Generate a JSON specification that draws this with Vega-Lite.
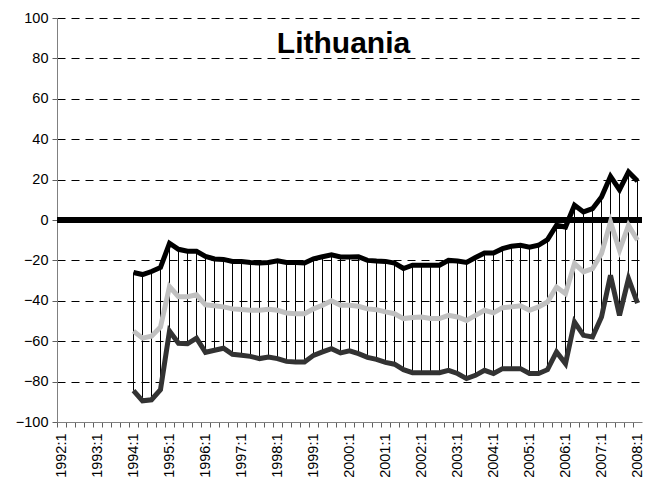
{
  "$schema": "https://vega.github.io/schema/vega-lite/v6.json",
  "width": 585,
  "height": 404,
  "autosize": {"type": "none"},
  "padding": {"left": 57, "top": 18, "right": 6, "bottom": 57},
  "background": "white",
  "title": {
    "text": "Lithuania",
    "font": "Liberation Sans",
    "fontSize": 30,
    "fontWeight": "bold",
    "color": "black",
    "anchor": "middle",
    "offset": -48.5,
    "dx": -6
  },
  "config": {
    "view": {"stroke": null},
    "font": "Liberation Sans",
    "axis": {
      "labelFont": "Liberation Sans",
      "labelFontSize": 14.5,
      "labelColor": "black",
      "domainColor": "#808080",
      "tickColor": "#606060",
      "tickSize": 5,
      "title": null
    }
  },
  "data": {
    "values": [
      {"q": "1994:1", "top": -26, "mid": -55, "bot": -84.5},
      {"q": "1994:2", "top": -27, "mid": -58.5, "bot": -89.5},
      {"q": "1994:3", "top": -25.5, "mid": -57.5, "bot": -89},
      {"q": "1994:4", "top": -23.5, "mid": -53, "bot": -84},
      {"q": "1995:1", "top": -11.5, "mid": -33, "bot": -55},
      {"q": "1995:2", "top": -14.5, "mid": -38, "bot": -61},
      {"q": "1995:3", "top": -15.5, "mid": -38, "bot": -61.3},
      {"q": "1995:4", "top": -15.5, "mid": -37, "bot": -58.5},
      {"q": "1996:1", "top": -18, "mid": -42, "bot": -65.5},
      {"q": "1996:2", "top": -19.3, "mid": -42.5, "bot": -64.5},
      {"q": "1996:3", "top": -19.5, "mid": -43, "bot": -63.5},
      {"q": "1996:4", "top": -20.5, "mid": -44, "bot": -66.5},
      {"q": "1997:1", "top": -20.5, "mid": -44.3, "bot": -67},
      {"q": "1997:2", "top": -21, "mid": -44.7, "bot": -67.5},
      {"q": "1997:3", "top": -21.3, "mid": -44.7, "bot": -68.6},
      {"q": "1997:4", "top": -21, "mid": -44.2, "bot": -67.8},
      {"q": "1998:1", "top": -20.2, "mid": -44.7, "bot": -68.6},
      {"q": "1998:2", "top": -21, "mid": -46, "bot": -70},
      {"q": "1998:3", "top": -21, "mid": -46.4, "bot": -70.3},
      {"q": "1998:4", "top": -21.3, "mid": -46.4, "bot": -70.3},
      {"q": "1999:1", "top": -19.2, "mid": -44, "bot": -67},
      {"q": "1999:2", "top": -18.2, "mid": -42.2, "bot": -65.3},
      {"q": "1999:3", "top": -17.2, "mid": -40, "bot": -63.7},
      {"q": "1999:4", "top": -18.3, "mid": -42.2, "bot": -65.8},
      {"q": "2000:1", "top": -18.3, "mid": -42.2, "bot": -64.8},
      {"q": "2000:2", "top": -18.2, "mid": -42.7, "bot": -66.2},
      {"q": "2000:3", "top": -20, "mid": -44, "bot": -68},
      {"q": "2000:4", "top": -20.3, "mid": -44.4, "bot": -69},
      {"q": "2001:1", "top": -20.5, "mid": -45.5, "bot": -70.5},
      {"q": "2001:2", "top": -21.3, "mid": -46.4, "bot": -71.4},
      {"q": "2001:3", "top": -24, "mid": -48.8, "bot": -74.1},
      {"q": "2001:4", "top": -22.4, "mid": -48.3, "bot": -75.6},
      {"q": "2002:1", "top": -22.4, "mid": -48, "bot": -75.6},
      {"q": "2002:2", "top": -22.4, "mid": -48.8, "bot": -75.6},
      {"q": "2002:3", "top": -22.4, "mid": -48.8, "bot": -75.6},
      {"q": "2002:4", "top": -20, "mid": -47.2, "bot": -74.4},
      {"q": "2003:1", "top": -20.3, "mid": -48, "bot": -76},
      {"q": "2003:2", "top": -21, "mid": -49.7, "bot": -78.5},
      {"q": "2003:3", "top": -18.6, "mid": -47.2, "bot": -76.9},
      {"q": "2003:4", "top": -16.3, "mid": -44.7, "bot": -74.4},
      {"q": "2004:1", "top": -16.3, "mid": -46, "bot": -76},
      {"q": "2004:2", "top": -14.2, "mid": -43.4, "bot": -73.6},
      {"q": "2004:3", "top": -13, "mid": -43, "bot": -73.6},
      {"q": "2004:4", "top": -12.5, "mid": -42.5, "bot": -73.6},
      {"q": "2005:1", "top": -13.5, "mid": -44.7, "bot": -76},
      {"q": "2005:2", "top": -12.5, "mid": -43, "bot": -76},
      {"q": "2005:3", "top": -9.7, "mid": -40.6, "bot": -74.1},
      {"q": "2005:4", "top": -2.6, "mid": -33.2, "bot": -65.3},
      {"q": "2006:1", "top": -3.5, "mid": -36.5, "bot": -71.1},
      {"q": "2006:2", "top": 7.3, "mid": -21.6, "bot": -50.5},
      {"q": "2006:3", "top": 4, "mid": -25.7, "bot": -57.1},
      {"q": "2006:4", "top": 5.6, "mid": -24.1, "bot": -57.9},
      {"q": "2007:1", "top": 11.4, "mid": -16.6, "bot": -48},
      {"q": "2007:2", "top": 21.6, "mid": -1, "bot": -27.4},
      {"q": "2007:3", "top": 15, "mid": -15, "bot": -47.2},
      {"q": "2007:4", "top": 23.8, "mid": -2.6, "bot": -29},
      {"q": "2008:1", "top": 19.3, "mid": -10, "bot": -41.1}
    ]
  },
  "layer": [
    {
      "mark": {"type": "rule", "color": "black", "strokeWidth": 1},
      "encoding": {
        "x": {
          "field": "q",
          "type": "ordinal",
          "scale": {
            "paddingInner": 0,
            "paddingOuter": 0,
            "domain": ["1992:1","1992:2","1992:3","1992:4","1993:1","1993:2","1993:3","1993:4","1994:1","1994:2","1994:3","1994:4","1995:1","1995:2","1995:3","1995:4","1996:1","1996:2","1996:3","1996:4","1997:1","1997:2","1997:3","1997:4","1998:1","1998:2","1998:3","1998:4","1999:1","1999:2","1999:3","1999:4","2000:1","2000:2","2000:3","2000:4","2001:1","2001:2","2001:3","2001:4","2002:1","2002:2","2002:3","2002:4","2003:1","2003:2","2003:3","2003:4","2004:1","2004:2","2004:3","2004:4","2005:1","2005:2","2005:3","2005:4","2006:1","2006:2","2006:3","2006:4","2007:1","2007:2","2007:3","2007:4","2008:1"]
          },
          "axis": {
            "labelAngle": -90,
            "labelPadding": 6,
            "grid": false,
            "bandPosition": 0,
            "labelExpr": "indexof(datum.value, ':1') > 0 ? datum.value : ''"
          }
        },
        "y": {
          "field": "top",
          "type": "quantitative",
          "scale": {"domain": [-100, 100], "nice": false, "zero": false},
          "axis": {
            "values": [-100, -80, -60, -40, -20, 0, 20, 40, 60, 80, 100],
            "grid": true,
            "gridColor": "black",
            "gridDash": [8, 6],
            "gridWidth": 1,
            "gridOpacity": 1,
            "labelPadding": 4
          }
        },
        "y2": {"field": "bot"}
      }
    },
    {
      "mark": {"type": "rule", "color": "black", "strokeWidth": 5},
      "encoding": {"y": {"datum": 0, "type": "quantitative"}}
    },
    {
      "mark": {"type": "line", "color": "#333333", "strokeWidth": 5},
      "encoding": {
        "x": {"field": "q", "type": "ordinal"},
        "y": {"field": "bot", "type": "quantitative"}
      }
    },
    {
      "mark": {"type": "line", "color": "#c0c0c0", "strokeWidth": 5},
      "encoding": {
        "x": {"field": "q", "type": "ordinal"},
        "y": {"field": "mid", "type": "quantitative"}
      }
    },
    {
      "mark": {"type": "line", "color": "black", "strokeWidth": 5},
      "encoding": {
        "x": {"field": "q", "type": "ordinal"},
        "y": {"field": "top", "type": "quantitative"}
      }
    }
  ]
}
